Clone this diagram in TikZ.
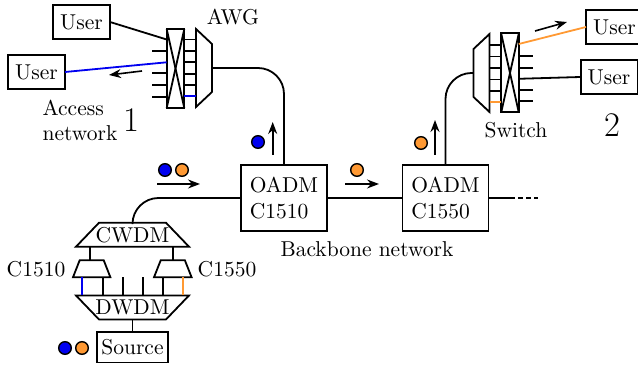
\documentclass[tikz,border=0pt]{standalone}
\usepackage{amsmath,amssymb}
\usepackage{tikz}
\usepackage{xcolor}
\usetikzlibrary{shapes.geometric, arrows, positioning, arrows.meta}
\definecolor{chblue}{RGB}{0,0,240}
\definecolor{chorange}{RGB}{255,153,51}

\begin{document}
\begin{tikzpicture}[
  x=0.5pt, y=-0.5pt,
  line width=0.9pt,
  every node/.style={font=\fontsize{10.75}{12.6}\selectfont},
  box/.style={rectangle, draw, line width=1pt, outer sep=0pt, inner sep=0pt, minimum width=28.5pt, minimum height=17pt},
  oadm/.style={rectangle, draw, line width=0.9pt, outer sep=0pt, inner sep=0pt, minimum width=43pt, minimum height=33pt, align=left},
  switchbox/.style={rectangle, draw, line width=1pt, outer sep=0pt, inner sep=0pt, minimum width=8.8pt, minimum height=39.5pt},
  trap/.style={trapezium, draw, line width=0.9pt, outer sep=0pt, inner sep=1pt, trapezium stretches=true},
  lbl/.style={inner sep=0pt, outer sep=0pt},
  dot/.style={circle, draw, line width=0.7pt, inner sep=0pt, outer sep=0pt, minimum size=6.3pt},
  flow/.style={-{Stealth[length=6pt,width=4.5pt,inset=2pt]}, line width=0.8pt},
  curved/.style={rounded corners=13pt}
]
  \useasboundingbox (0,0) rectangle (638,367);

  % users
  \node [box] (user1) at (81.5,22) {User};
  \node [box] (user2) at (36.5,72) {User};
  \node [box] (user3) at (614.5,27) {User};
  \node [box] (user4) at (609,77) {User};

  % backbone
  \node [oadm] (oadm1) at (284,198) {OADM\\C1510};
  \node [oadm] (oadm2) at (445.5,198) {OADM\\C1550};
  \coordinate (tail) at (515,198);
  \coordinate (tailend) at (538,198);

  % access side
  \node [switchbox] (swa) at (175.5,68.5) {};
  \node [trap, shape border rotate=270, minimum width=39pt, minimum height=8pt, trapezium angle=72.6] (awg) at (204,68) {};
  \node [switchbox] (swb) at (510,73) {};
  \node [trap, shape border rotate=90, minimum width=39pt, minimum height=8pt, trapezium angle=72.6] (dmx) at (481.5,73) {};

  % source side
  \node [trap, minimum width=56.5pt, minimum height=12pt, trapezium angle=71] (cwdm) at (132.5,234.7) {};
  \node [trap, minimum width=18.7pt, minimum height=8.5pt, trapezium angle=74.5] (mux1) at (91.7,268.8) {};
  \node [trap, minimum width=18.8pt, minimum height=8.5pt, trapezium angle=74.5] (mux2) at (172.8,268.8) {};
  \node [trap, shape border rotate=180, minimum width=56.5pt, minimum height=12pt, trapezium angle=71] (dwdm) at (132.5,307.5) {};
  \node [box, minimum width=35.5pt, minimum height=15.3pt, line width=0.9pt] (source) at (132.5,347.3) {Source};

  % labels
  \node [lbl] (cwdmlab) at (cwdm) {CWDM};
  \node [lbl] (dwdmlab) at (dwdm) {DWDM};
  \node [lbl] (awglab) at (233,17) {AWG};
  \node [lbl, align=left] (acclab) at (80,120.5) {Access\\network};
  \node [lbl, font=\LARGE] (num1) at (131,120) {1};
  \node [lbl] (swlab) at (516,130) {Switch};
  \node [lbl, font=\LARGE] (num2) at (612,125) {2};
  \node [lbl] (bblab) at (367,249) {Backbone network};
  \node [lbl] (c1510) at (36,269) {C1510};
  \node [lbl] (c1550) at (227,269) {C1550};

  % wavelengths
  \foreach \name/\col/\px/\py in {da/chblue/258/142, db/chblue/165/170, dc/chorange/182/170, dd/chorange/357/170, de/chorange/421/143, df/chblue/65/348, dg/chorange/82/348}
    \node [dot, fill=\col] (\name) at (\px,\py) {};

  % stubs on the access switch
  \foreach \i/\py in {1/50.7, 2/73.3, 3/85, 4/96.7} {
    \coordinate (sa\i) at (152,\py);
    \draw (sa\i) -- (sa\i -| swa.west);
  }
  \foreach \py in {39.5, 51, 62.3, 74, 85} {
    \draw (swa.east |- 0,\py) -- (awg.west |- 0,\py);
  }
  \draw [chblue] (swa.east |- 0,96.3) -- (awg.west |- 0,96.3);
  \draw (swa.north west) -- (swa.south east);
  \draw (swa.south west) -- (swa.north east);

  % stubs on the switch at the far end
  \foreach \i/\py in {1/56, 2/68, 3/90, 4/101} {
    \coordinate (sb\i) at (533,\py);
    \draw (swb.east |- sb\i) -- (sb\i);
  }
  \foreach \py in {45, 56.5, 68, 79.5, 91} {
    \draw (dmx.east |- 0,\py) -- (swb.west |- 0,\py);
  }
  \draw [chorange] (dmx.east |- 0,102) -- (swb.west |- 0,102);
  \draw (swb.north west) -- (swb.south east);
  \draw (swb.south west) -- (swb.north east);

  % fibres
  \draw (user1.east) -- (swa.west |- 0,39.5);
  \draw [chblue] (user2.east) -- (swa.west |- 0,62.3);
  \draw [chorange] (swb.east |- 0,44) -- (user3.west);
  \draw (swb.east |- 0,78.8) -- (user4.west);
  \draw [curved] (awg.east) -| (oadm1.north);
  \draw [curved] (dmx.west) -| (oadm2.north);
  \draw [curved] (cwdm.north) |- (oadm1.west);
  \draw (oadm1.east) -- (oadm2.west);
  \draw (oadm2.east) -- (tail);
  \draw [dash pattern=on 2.5pt off 1.5pt] (tail) ++(3,0) -- (tailend);

  % source side links
  \draw (source.north) -- (dwdm.south);
  \draw (mux1.north -| 90,0) -- (cwdm.south -| 90,0);
  \draw (mux2.north) -- (cwdm.south -| mux2.north);
  \draw [chblue] (mux1.south -| 82.3,0) -- (dwdm.north -| 82.3,0);
  \draw (mux1.south -| 102.7,0) -- (dwdm.north -| 102.7,0);
  \draw (mux2.south -| 162.7,0) -- (dwdm.north -| 162.7,0);
  \draw [chorange] (mux2.south -| 182.7,0) -- (dwdm.north -| 182.7,0);
  \foreach \px in {123, 143}
    \draw (mux1.south -| \px,0) -- (dwdm.north -| \px,0);

  % directions
  \foreach \name/\xa/\ya/\xb/\yb in {fa/142/71/109/75, fb/272.7/155/272.7/122, fc/157/184/200/184, fd/345/184/379/184, fe/435/155/435/120, ff/535/31/567/22} {
    \coordinate (\name s) at (\xa,\ya);
    \coordinate (\name e) at (\xb,\yb);
    \draw [flow] (\name s) -- (\name e);
  }
\end{tikzpicture}
\end{document}
